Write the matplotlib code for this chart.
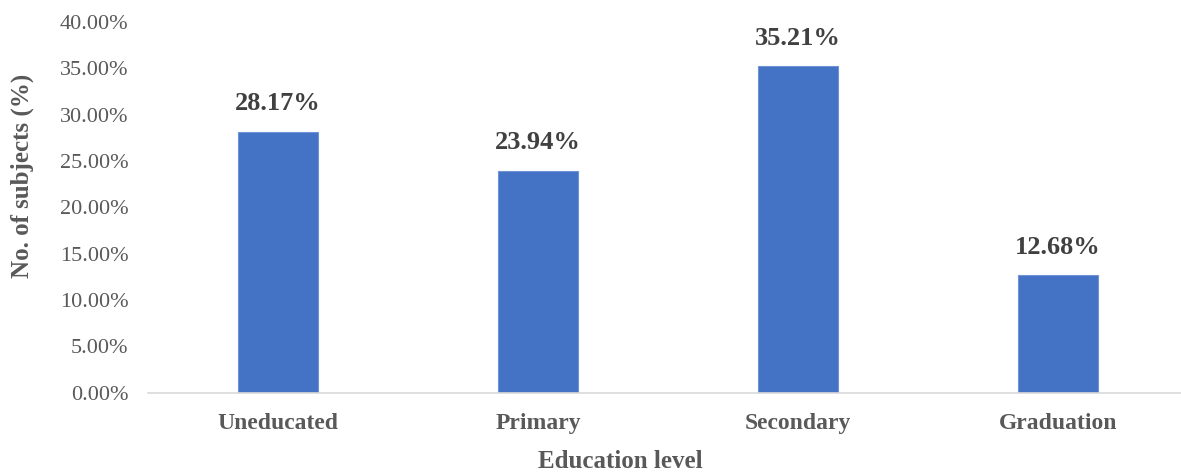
import matplotlib.pyplot as plt

levels = ["Uneducated", "Primary", "Secondary", "Graduation"]
share = [28.17, 23.94, 35.21, 12.68]
yticks = [0, 5, 10, 15, 20, 25, 30, 35, 40]

plt.rcParams['font.family'] = ['Liberation Serif', 'DejaVu Serif']

fig = plt.figure(figsize=(11.81, 4.76), dpi=100)
ax = fig.add_axes([148 / 1181, 83.5 / 476, 1040 / 1181, 370.5 / 476])

bars = ax.bar(range(len(levels)), share, width=0.31, color="#4472C4",
              edgecolor="#6F93D6", linewidth=0.8)

for b, v in zip(bars, share):
    ax.annotate(f"{v:.2f}%", (b.get_x() + b.get_width() / 2, v),
                xytext=(0, 20), textcoords="offset points",
                ha="center", va="center", fontsize=19, fontweight="bold",
                color="#404040")

ax.set_xlim(-0.5, 3.5)
ax.set_ylim(0, 40)
ax.set_yticks(yticks)
ax.set_yticklabels([f"{t:.2f}%" for t in yticks])
ax.set_xticks(range(len(levels)))
ax.set_xticklabels(levels, fontweight="bold")

for s in ["top", "right", "left"]:
    ax.spines[s].set_visible(False)
ax.spines["bottom"].set_color("#D9D9D9")
ax.spines["bottom"].set_linewidth(1.2)

ax.tick_params(axis="y", length=0, pad=14, labelsize=16, labelcolor="#595959")
ax.tick_params(axis="x", length=0, pad=15, labelsize=17, labelcolor="#595959")

ax.set_xlabel("Education level", fontsize=18, fontweight="bold", color="#595959")
ax.set_ylabel("No. of subjects (%)", fontsize=18, fontweight="bold", color="#595959")
ax.xaxis.label.set_va("center")
ax.yaxis.label.set_va("center")
ax.xaxis.set_label_coords(472 / 1040, -(462 - 392.5) / 370.5)
ax.yaxis.set_label_coords(-(148 - 22) / 1040, (392.5 - 176) / 370.5)

fig.savefig("out.png", dpi=100)
